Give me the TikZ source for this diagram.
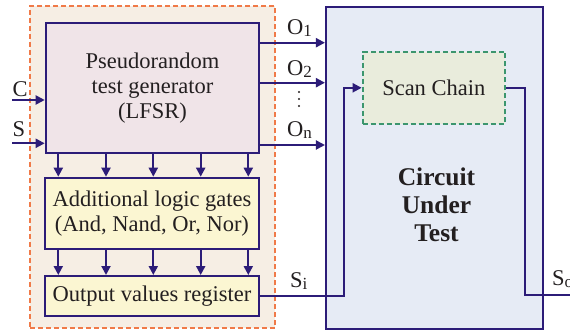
\documentclass[tikz,border=0pt]{standalone}
\usepackage{fontspec}
\setmainfont{Liberation Serif}
\usetikzlibrary{arrows.meta}

\definecolor{navy}{RGB}{44,28,120}
\definecolor{ink}{RGB}{35,31,32}
\definecolor{orangeline}{RGB}{240,122,72}
\definecolor{orangebg}{RGB}{246,238,228}
\definecolor{lfsrfill}{RGB}{240,228,232}
\definecolor{gatefill}{RGB}{251,246,210}
\definecolor{cutfill}{RGB}{230,235,245}
\definecolor{scanfill}{RGB}{233,236,220}
\definecolor{greenline}{RGB}{60,150,110}

\newcommand\subtxt[1]{\raisebox{-2pt}{\fontsize{17}{17}\selectfont #1}}

\tikzset{
  blockbox/.style={draw=navy, line width=2pt, inner sep=0pt, text=ink,
    align=center, font=\fontsize{22.5}{25}\selectfont},
  wire/.style={draw=navy, line width=2pt},
  arr/.style={wire, -{Triangle[length=9pt,width=9pt]}},
  lbl/.style={text=ink, inner sep=0pt, font=\fontsize{22.5}{25}\selectfont},
}

\begin{document}
\begin{tikzpicture}[x=1pt,y=-1pt]
\useasboundingbox (0,0) rectangle (570,331);

% test-pattern generator enclosure
\node[draw=orangeline, fill=orangebg, line width=2pt, dash pattern=on 5pt off 3pt,
      minimum width=245pt, minimum height=322pt, inner sep=0pt] (bist) at (152.5,167) {};

% device under test
\node[blockbox, fill=cutfill, minimum width=216.7pt, minimum height=322.6pt] (cut) at (434.3,168) {};
\node[lbl, font=\fontsize{25.5}{28}\selectfont\bfseries, align=center, anchor=center]
  (cuttext) at (436.5,205) {Circuit\\Under\\Test};

% scan chain inside the circuit
\node[blockbox, fill=scanfill, draw=greenline, dash pattern=on 5pt off 3pt,
      minimum width=142.3pt, minimum height=72.3pt] (scan) at (433.8,87.8) {Scan Chain};

% generator blocks
\node[blockbox, fill=lfsrfill, minimum width=213.6pt, minimum height=130.6pt]
  (lfsr) at (152.5,88) {Pseudorandom\\test generator\\(LFSR)};
\node[blockbox, fill=gatefill, minimum width=214pt, minimum height=71.6pt]
  (gates) at (152,213.5) {Additional logic gates\\(And, Nand, Or, Nor)};
\node[blockbox, fill=gatefill, minimum width=214pt, minimum height=40pt]
  (outreg) at (152,296) {Output values register};

% parallel links between blocks
\foreach \x in {58.3,106,153.3,200.7,248.3} {
  \draw[arr] (\x,0 |- lfsr.south) -- (\x,0 |- gates.north);
  \draw[arr] (\x,0 |- gates.south) -- (\x,0 |- outreg.north);
}

% control inputs
\coordinate (cin) at (12,100);
\coordinate (sin) at (12,143.3);
\draw[arr] (cin) -- (cin -| lfsr.west);
\draw[arr] (sin) -- (sin -| lfsr.west);
\node[lbl, anchor=base west] (clbl) at (12.5,96.7) {C};
\node[lbl, anchor=base west] (slbl) at (12.5,136.7) {S};

% generator outputs
\coordinate (o1y) at (0,42.7);
\coordinate (o2y) at (0,82.7);
\coordinate (ony) at (0,145);
\draw[arr] (lfsr.east |- o1y) -- (cut.west |- o1y);
\draw[arr] (lfsr.east |- o2y) -- (cut.west |- o2y);
\draw[arr] (lfsr.east |- ony) -- (cut.west |- ony);
\node[lbl, anchor=base west] (o1) at (287,35) {O\subtxt{1}};
\node[lbl, anchor=base west] (o2) at (287,75.5) {O\subtxt{2}};
\node[lbl, anchor=base west] (on) at (287,137) {O\subtxt{n}};
% vertical ellipsis between the outputs
\foreach \y in {92,99,106} \fill[ink] (299,\y) circle (1.1pt);

% scan-in and scan-out paths
\coordinate (sibend) at (344,296);
\draw[arr] (outreg.east) -- (sibend) |- (scan.west);
\node[lbl, anchor=base west] (si) at (290,287) {S\subtxt{i}};
\coordinate (sobend) at (525,295);
\coordinate (soout) at (580,295);
\draw[wire] (scan.east) -| (sobend) -- (soout);
\node[lbl, anchor=base west] (so) at (552,285) {S\subtxt{o}};
\end{tikzpicture}
\end{document}
